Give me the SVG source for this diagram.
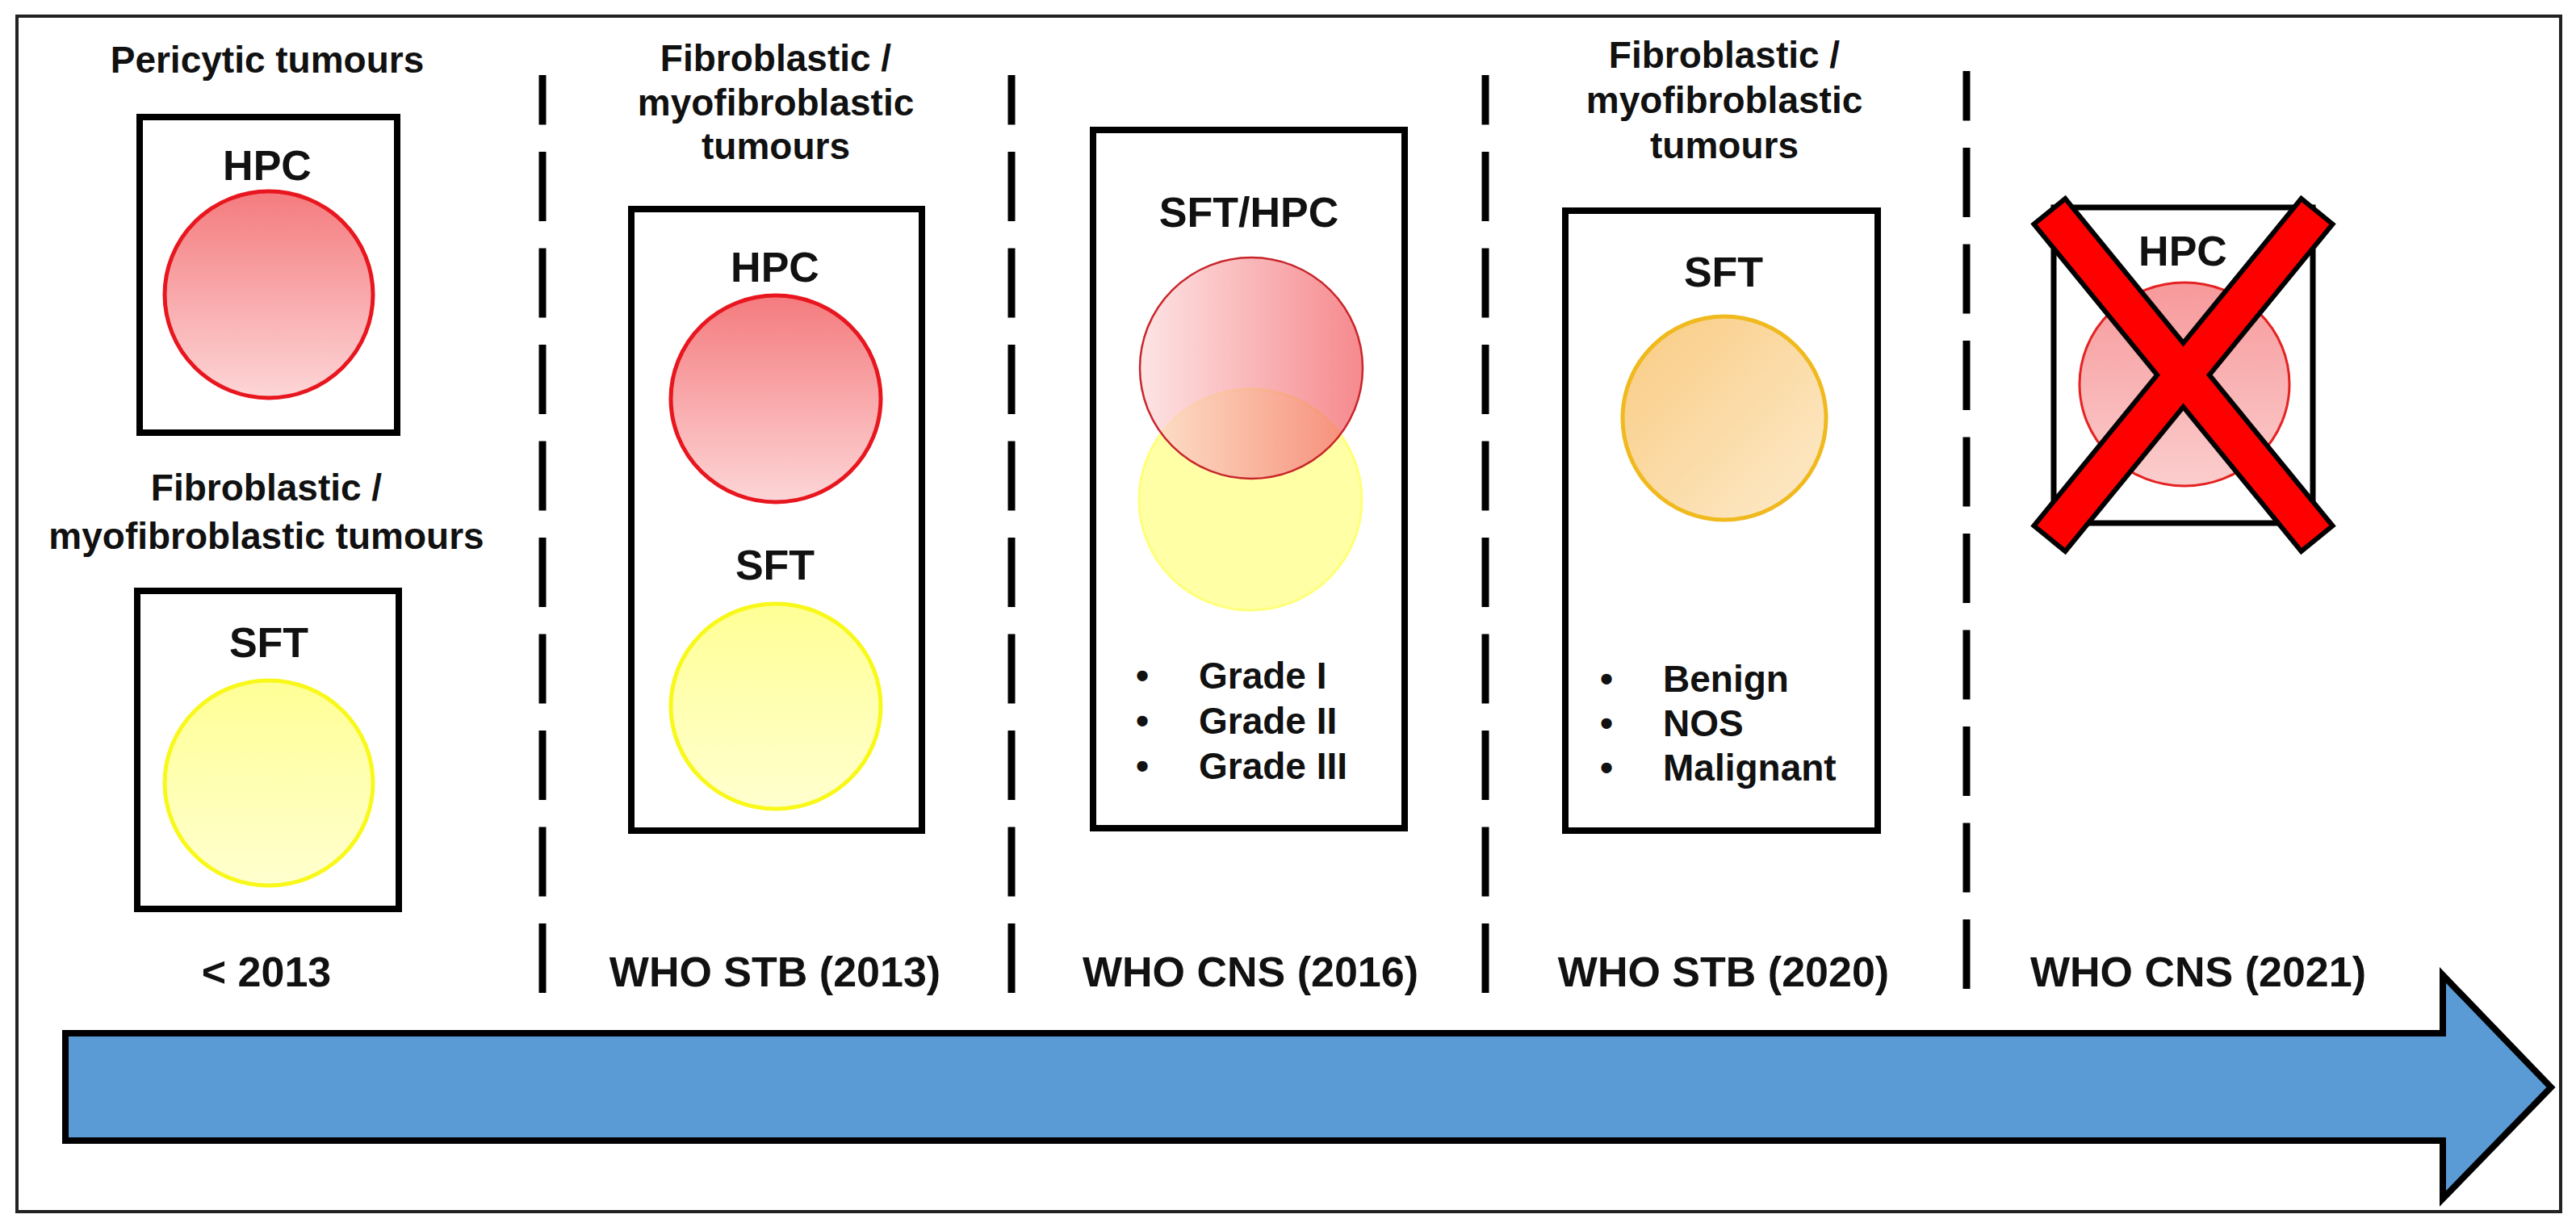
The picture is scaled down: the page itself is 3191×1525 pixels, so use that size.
<svg xmlns="http://www.w3.org/2000/svg" width="3191" height="1525" viewBox="0 0 3191 1525">
<defs>
<style>
.t{font-family:"Liberation Sans",Arial,Helvetica,sans-serif;font-weight:bold;fill:#111;}
.h{font-size:46px;text-anchor:middle;}
.l{font-size:52px;text-anchor:middle;}
.g{font-size:46px;}
.b{font-size:46px;text-anchor:middle;}
.box{fill:none;stroke:#000;stroke-width:8;}
.dash{stroke:#000;stroke-width:9;stroke-dasharray:86 33.5;stroke-dashoffset:24.5;fill:none;}
.red{fill:url(#gRed);stroke:#E8161E;stroke-width:5;}
.yel{fill:url(#gYel);stroke:#F8F81A;stroke-width:5;}
</style>
<linearGradient id="gRed" x1="0" y1="0" x2="0" y2="1">
<stop offset="0" stop-color="#F47B7E"/><stop offset="1" stop-color="#FDD6D7"/>
</linearGradient>
<linearGradient id="gYel" x1="0" y1="0" x2="0" y2="1">
<stop offset="0" stop-color="#FFFF96"/><stop offset="1" stop-color="#FFFFCF"/>
</linearGradient>
<linearGradient id="gRedH" x1="0" y1="0" x2="1" y2="0">
<stop offset="0" stop-color="#FDDADB"/><stop offset="1" stop-color="#F25C62"/>
</linearGradient>
<linearGradient id="gOr" x1="0" y1="0" x2="1" y2="1">
<stop offset="0" stop-color="#F9CB82"/><stop offset="1" stop-color="#FDEBCB"/>
</linearGradient>
<linearGradient id="gPink" x1="0" y1="0" x2="0" y2="1">
<stop offset="0" stop-color="#F7999B"/><stop offset="1" stop-color="#FBCDCD"/>
</linearGradient>
</defs>
<rect x="0" y="0" width="3191" height="1525" fill="#fff"/>
<rect id="frame" x="21" y="20" width="3151" height="1481" fill="none" stroke="#222" stroke-width="4"/>

<g id="connectors">
<line class="dash" x1="672" y1="93" x2="672" y2="1231"/>
<line class="dash" x1="1253" y1="93" x2="1253" y2="1231"/>
<line class="dash" x1="1840" y1="93" x2="1840" y2="1231"/>
<line class="dash" x1="2436" y1="88" x2="2436" y2="1226"/>
</g>

<g id="timeline-arrow">
<polygon points="81,1280 3026,1280 3026,1208 3160,1347 3026,1485 3026,1413 81,1413" fill="#5B9BD5" stroke="#000" stroke-width="8" stroke-linejoin="miter"/>
</g>

<g id="col-pre2013">
<text class="t h" x="331" y="90">Pericytic tumours</text>
<g id="pre2013-hpc">
<rect class="box" x="173" y="145" width="319" height="391"/>
<text class="t l" x="331" y="223">HPC</text>
<ellipse class="red" cx="333" cy="365" rx="129" ry="128"/>
</g>
<text class="t h" x="330" y="620">Fibroblastic /</text>
<text class="t h" x="330" y="680">myofibroblastic tumours</text>
<g id="pre2013-sft">
<rect class="box" x="170" y="732" width="324" height="394"/>
<text class="t l" x="333" y="814">SFT</text>
<ellipse class="yel" cx="333" cy="970" rx="129" ry="127"/>
</g>
<text class="t l" x="330" y="1222">&lt; 2013</text>
</g>

<g id="col-2013">
<text class="t h" x="961" y="88">Fibroblastic /</text>
<text class="t h" x="961" y="143">myofibroblastic</text>
<text class="t h" x="961" y="197">tumours</text>
<g id="stb2013-box">
<rect class="box" x="782" y="259" width="360" height="770"/>
<text class="t l" x="960" y="349">HPC</text>
<ellipse class="red" cx="961" cy="494" rx="130" ry="128"/>
<text class="t l" x="960" y="718">SFT</text>
<ellipse class="yel" cx="961" cy="875" rx="130" ry="127"/>
</g>
<text class="t l" x="960" y="1222">WHO STB (2013)</text>
</g>

<g id="col-2016">
<g id="cns2016-box">
<rect class="box" x="1354" y="161" width="386" height="865"/>
<text class="t l" x="1547" y="281">SFT/HPC</text>
<ellipse cx="1549" cy="619" rx="138" ry="137" fill="#FFFFA6" stroke="#FFFF7A" stroke-width="3"/>
<ellipse cx="1550" cy="456" rx="138" ry="137" fill="url(#gRedH)" fill-opacity="0.72" stroke="#C8262B" stroke-width="2.5"/>
<text class="t b" x="1415" y="853">•</text>
<text class="t b" x="1415" y="909">•</text>
<text class="t b" x="1415" y="965">•</text>
<text class="t g" x="1485" y="853">Grade I</text>
<text class="t g" x="1485" y="909">Grade II</text>
<text class="t g" x="1485" y="965">Grade III</text>
</g>
<text class="t l" x="1549" y="1222">WHO CNS (2016)</text>
</g>

<g id="col-2020">
<text class="t h" x="2136" y="84">Fibroblastic /</text>
<text class="t h" x="2136" y="140">myofibroblastic</text>
<text class="t h" x="2136" y="196">tumours</text>
<g id="stb2020-box">
<rect class="box" x="1939" y="261" width="387" height="768"/>
<text class="t l" x="2135" y="355">SFT</text>
<ellipse cx="2136" cy="518" rx="126" ry="126" fill="url(#gOr)" stroke="#F0B91E" stroke-width="5"/>
<text class="t b" x="1990" y="857">•</text>
<text class="t b" x="1990" y="912">•</text>
<text class="t b" x="1990" y="967">•</text>
<text class="t g" x="2060" y="857">Benign</text>
<text class="t g" x="2060" y="912">NOS</text>
<text class="t g" x="2060" y="967">Malignant</text>
</g>
<text class="t l" x="2135" y="1222">WHO STB (2020)</text>
</g>

<g id="col-2021">
<g id="cns2021-box">
<rect x="2544" y="257" width="321" height="391" fill="#fff" stroke="#000" stroke-width="7"/>
<text class="t l" x="2704" y="329">HPC</text>
<ellipse cx="2706" cy="476" rx="130" ry="126" fill="url(#gPink)" stroke="#E52222" stroke-width="3"/>
</g>
<g id="cross">
<polygon points="2557.9,250.3 2885.3,650.9 2851.1,678.7 2523.7,278.1" fill="#000" stroke="#000" stroke-width="12" stroke-linejoin="miter"/>
<polygon points="2885.3,278.1 2851.1,250.3 2523.7,650.9 2557.9,678.7" fill="#000" stroke="#000" stroke-width="12" stroke-linejoin="miter"/>
<polygon points="2557.9,250.3 2885.3,650.9 2851.1,678.7 2523.7,278.1" fill="#FF0000"/>
<polygon points="2885.3,278.1 2851.1,250.3 2523.7,650.9 2557.9,678.7" fill="#FF0000"/>
</g>
<text class="t l" x="2723" y="1222">WHO CNS (2021)</text>
</g>
</svg>
